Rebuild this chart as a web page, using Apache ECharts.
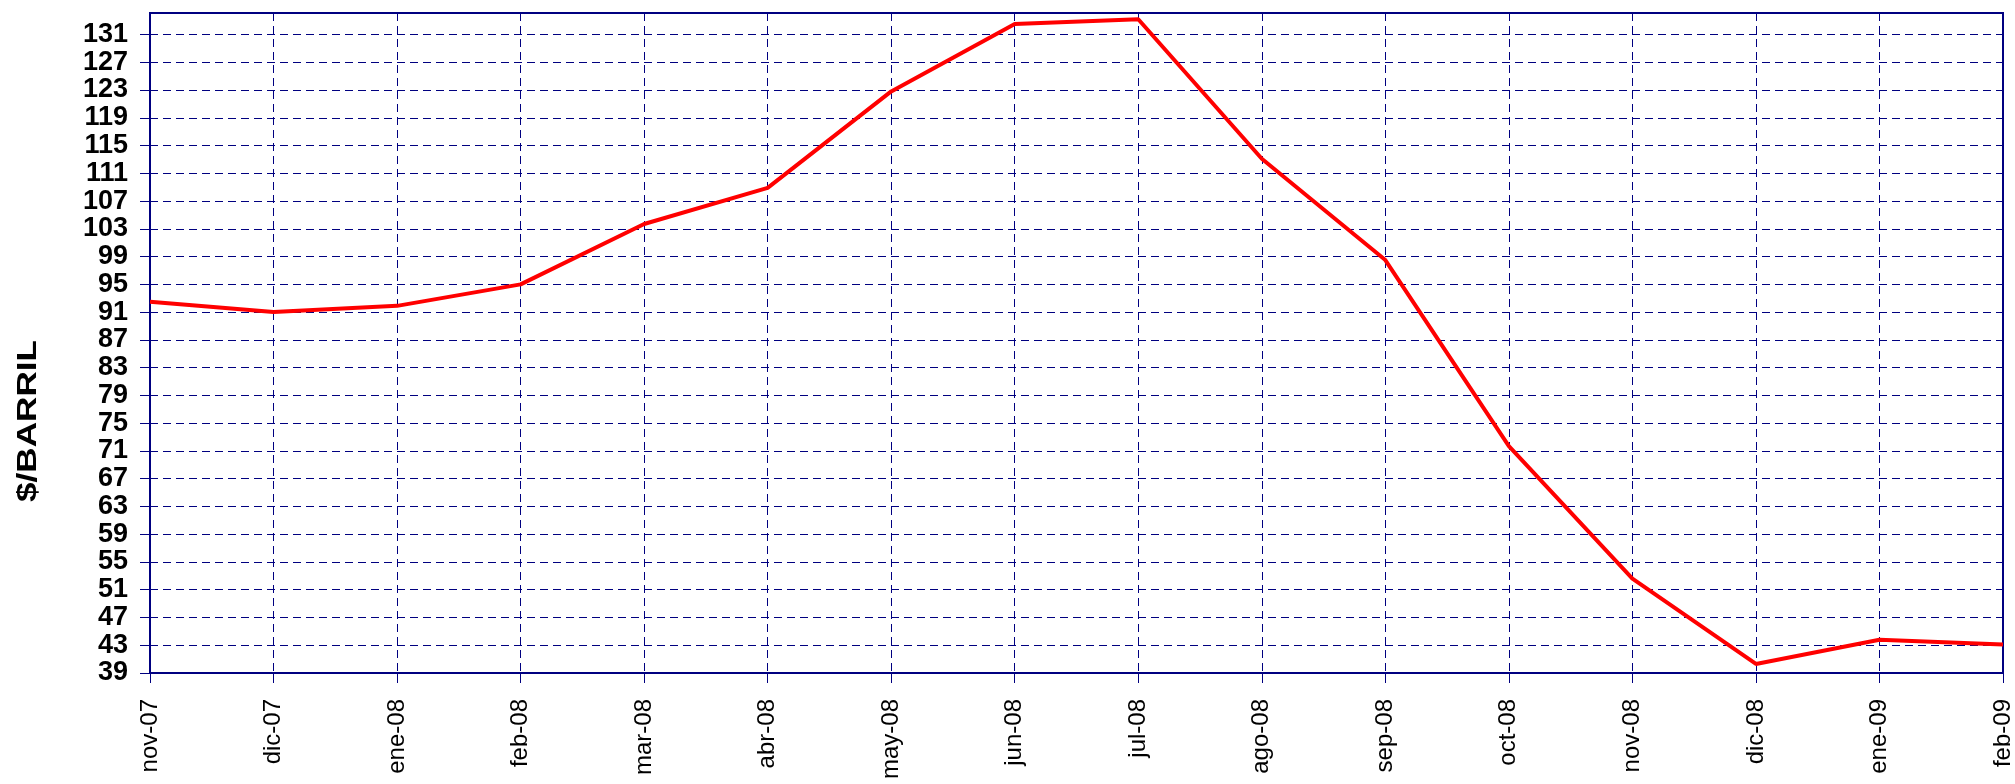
<!DOCTYPE html>
<html>
<head>
<meta charset="utf-8">
<script src="https://cdn.jsdelivr.net/npm/echarts@6/dist/echarts.min.js"></script>
<style>
  html, body { margin: 0; padding: 0; background: #fff; }
  #chart { width: 2015px; height: 784px; }
</style>
</head>
<body>
<div id="chart"></div>
<script>
// monthly oil price, $/barrel
const months = [
  "nov-07", "dic-07", "ene-08", "feb-08", "mar-08", "abr-08", "may-08", "jun-08",
  "jul-08", "ago-08", "sep-08", "oct-08", "nov-08", "dic-08", "ene-09", "feb-09"
];
const prices = [
  92.5, 91.0, 91.9, 95.0, 103.7, 108.9, 122.8, 132.5,
  133.2, 113.1, 98.5, 71.7, 52.6, 40.3, 43.8, 43.1
];
const yMin = 39;
const yMax = 134.1;
const yStep = 4;

const navy = "#000080";
const font = "'Liberation Sans', Arial, sans-serif";

const chart = echarts.init(document.getElementById("chart"));
chart.setOption({
  animation: false,
  grid: {
    left: 150, right: 10, top: 13, bottom: 111,
    show: true, borderColor: navy, borderWidth: 2
  },
  graphic: [
    {
      type: "text",
      x: 29, y: 421,
      rotation: Math.PI / 2,
      scaleX: 1.3,
      style: {
        text: "$/BARRIL",
        font: "bold 27px " + font,
        fill: "#000",
        align: "center",
        verticalAlign: "middle"
      }
    }
  ],
  xAxis: {
    type: "category",
    data: months,
    boundaryGap: false,
    axisLine: { lineStyle: { color: navy, width: 2 } },
    axisTick: { show: true, length: 10, interval: 0, lineStyle: { color: navy } },
    axisLabel: {
      interval: 0, rotate: 90, margin: 26,
      fontFamily: font, fontSize: 24, color: "#000"
    },
    splitLine: {
      show: true, interval: 0,
      lineStyle: { color: navy, width: 1, type: [8, 5] }
    }
  },
  yAxis: {
    type: "value",
    min: yMin, max: yMax, interval: yStep,
    axisLine: { show: true, lineStyle: { color: navy, width: 2 } },
    axisTick: { show: true, length: 10, lineStyle: { color: navy } },
    axisLabel: {
      margin: 22, showMaxLabel: false,
      fontFamily: font, fontSize: 27, fontWeight: "bold", color: "#000"
    },
    splitLine: {
      show: true,
      lineStyle: { color: navy, width: 1, type: [8, 5] }
    }
  },
  series: [
    {
      type: "line",
      data: prices,
      showSymbol: false,
      lineStyle: { color: "#ff0000", width: 4 },
      itemStyle: { color: "#ff0000" }
    }
  ]
});
</script>
</body>
</html>
